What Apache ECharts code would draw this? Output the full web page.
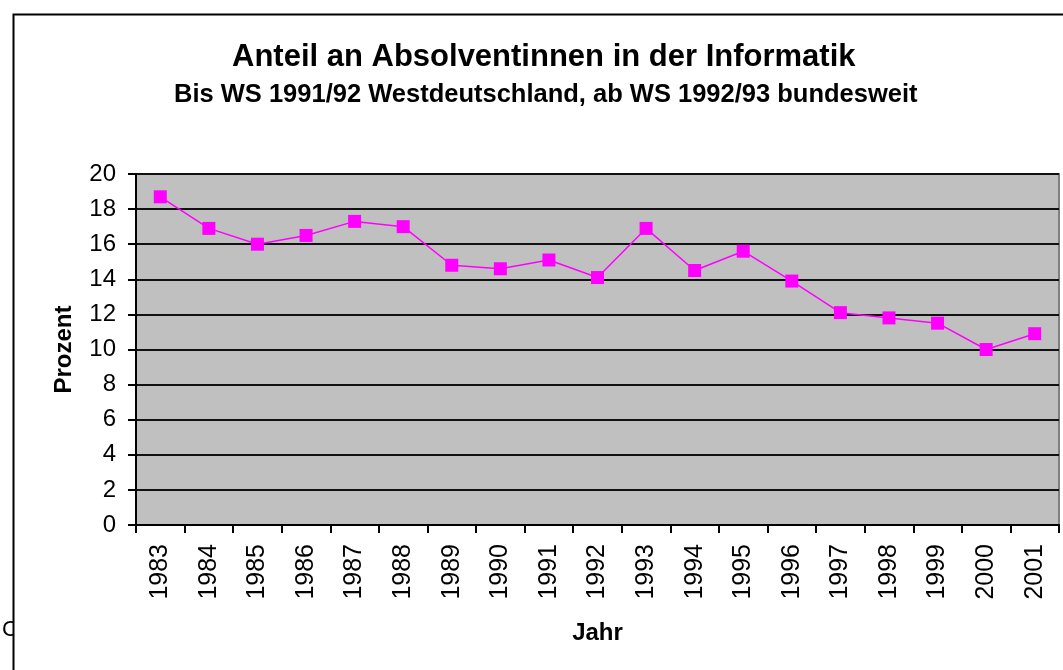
<!DOCTYPE html>
<html>
<head>
<meta charset="utf-8">
<title>Anteil an Absolventinnen in der Informatik</title>
<script src="https://cdn.jsdelivr.net/npm/echarts@6/dist/echarts.min.js"></script>
<style>
  html, body { margin: 0; padding: 0; background: #fff; }
  #chart { width: 1063px; height: 670px; }
</style>
</head>
<body>
<div id="chart"></div>
<script>
// Jahre und Anteil der Absolventinnen (Prozent)
var years = ["1983", "1984", "1985", "1986", "1987", "1988", "1989", "1990", "1991", "1992",
  "1993", "1994", "1995", "1996", "1997", "1998", "1999", "2000", "2001"];
var anteil = [18.7, 16.9, 16.0, 16.5, 17.3, 17.0, 14.8, 14.6, 15.1, 14.1,
  16.9, 14.5, 15.6, 13.9, 12.1, 11.8, 11.5, 10.0, 10.9];
var yTicks = [0, 2, 4, 6, 8, 10, 12, 14, 16, 18, 20];

var font = "'Liberation Sans', Arial, sans-serif";
var myChart = echarts.init(document.getElementById("chart"));

var option = {
  backgroundColor: "#fff",
  animation: false,
  title: [
    {
      text: "Anteil an Absolventinnen in der Informatik",
      left: 232,
      top: 42,
      padding: 0,
      textStyle: { fontFamily: font, fontSize: 31, fontWeight: "bold", color: "#000" }
    },
    {
      text: "Bis WS 1991/92 Westdeutschland, ab WS 1992/93 bundesweit",
      left: 174,
      top: 82,
      padding: 0,
      textStyle: { fontFamily: font, fontSize: 25.5, fontWeight: "bold", color: "#000" }
    }
  ],
  graphic: [
    {
      // abgeschnittener Buchstabe links unten
      type: "text", z: -2, x: 2, y: 619,
      style: { text: "C", fontFamily: font, fontSize: 22, fill: "#000" }
    },
    {
      // Rahmen des Diagrammobjekts
      type: "rect", z: -1,
      shape: { x: 13.5, y: 14.5, width: 1200, height: 800 },
      style: { fill: "#fff", stroke: "#000", lineWidth: 2 }
    }
  ],
  grid: {
    left: 136,
    top: 174,
    right: 4,
    bottom: 145,
    show: true,
    backgroundColor: "#C0C0C0",
    borderColor: "#808080",
    borderWidth: 2
  },
  xAxis: {
    type: "category",
    data: years,
    boundaryGap: true,
    name: "Jahr",
    nameLocation: "middle",
    nameGap: 96,
    nameTextStyle: { fontFamily: font, fontSize: 24, fontWeight: "bold", color: "#000" },
    axisLine: { show: true, lineStyle: { color: "#000", width: 2 } },
    axisTick: { show: true, length: 8, lineStyle: { color: "#000", width: 2 } },
    axisLabel: {
      interval: 0,
      rotate: 90,
      margin: 19,
      fontFamily: font,
      fontSize: 25,
      color: "#000"
    },
    splitLine: { show: false }
  },
  yAxis: {
    type: "value",
    min: yTicks[0],
    max: yTicks[yTicks.length - 1],
    interval: 2,
    name: "Prozent",
    nameLocation: "middle",
    nameRotate: 90,
    nameGap: 60,
    nameTextStyle: { fontFamily: font, fontSize: 24, fontWeight: "bold", color: "#000" },
    axisLine: { show: true, lineStyle: { color: "#000", width: 2 } },
    axisTick: { show: true, length: 8, lineStyle: { color: "#000", width: 2 } },
    axisLabel: { margin: 20, fontFamily: font, fontSize: 24, color: "#000" },
    splitLine: { show: true, lineStyle: { color: "#111", width: 2 } }
  },
  series: [
    {
      name: "Anteil",
      type: "line",
      data: anteil,
      symbol: "rect",
      symbolSize: 13,
      itemStyle: { color: "#FF00FF" },
      lineStyle: { color: "#FF00FF", width: 1.5 }
    }
  ]
};

myChart.setOption(option);
</script>
</body>
</html>
